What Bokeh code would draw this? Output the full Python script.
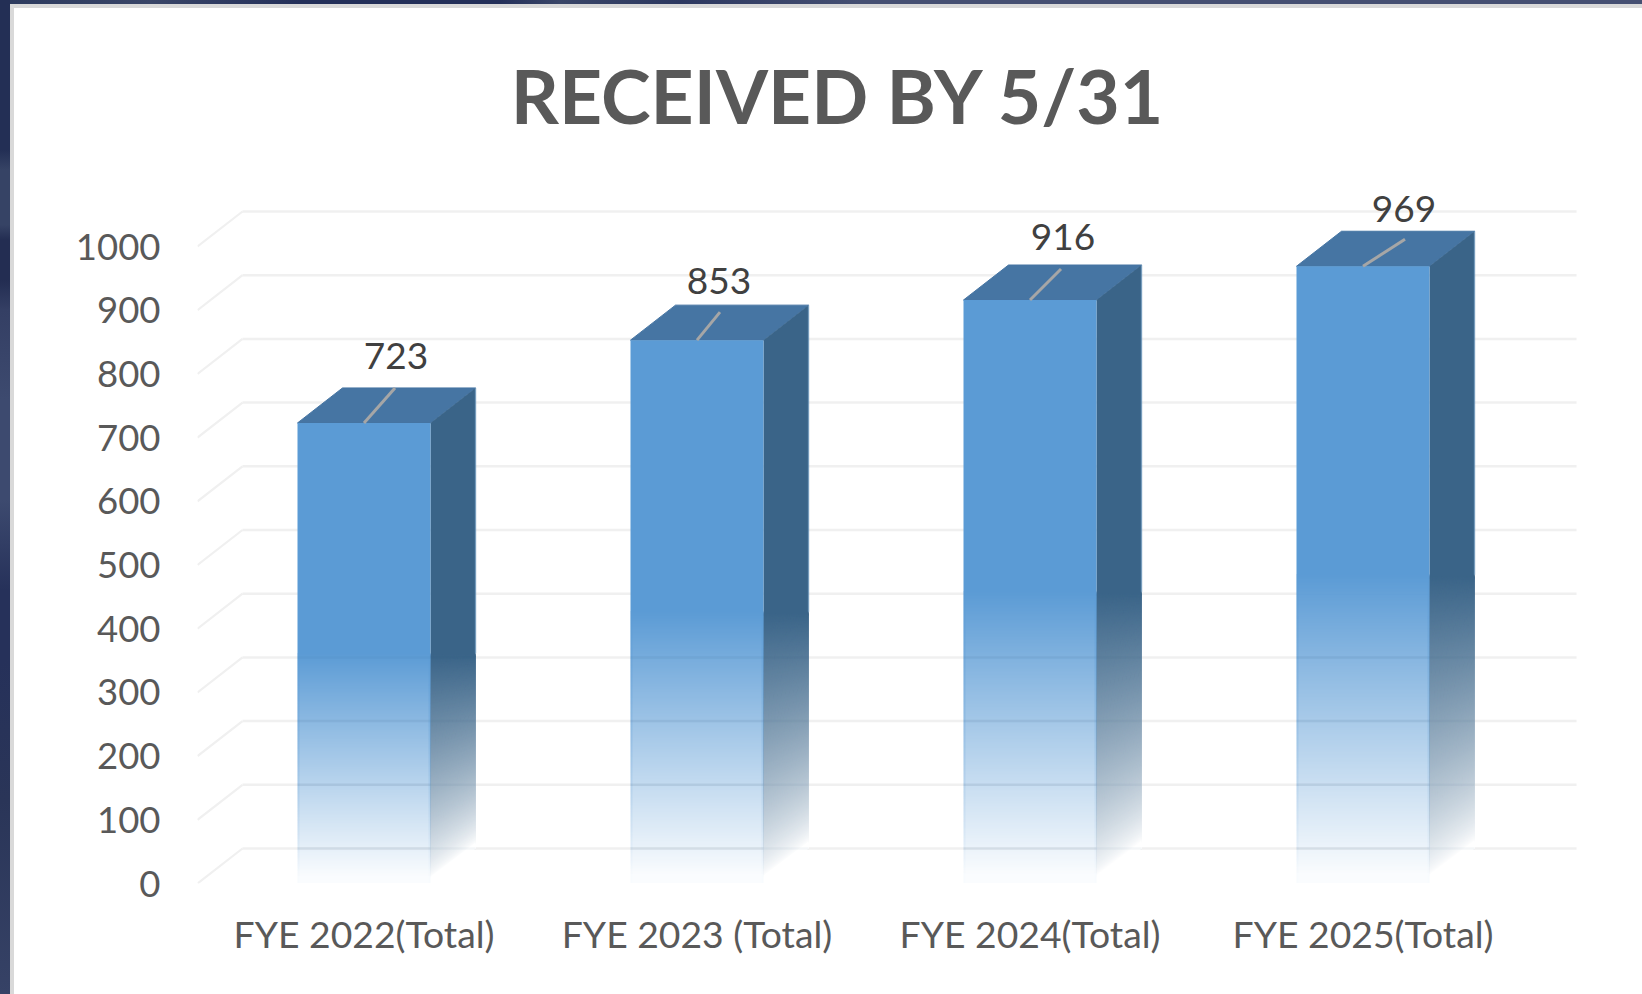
from bokeh.plotting import figure
from bokeh.models import Range1d, FixedTicker, ColumnDataSource, Label
from bokeh.core.properties import value
from bokeh.embed import file_html
from bokeh.resources import INLINE

title_text = "RECEIVED BY 5/31"
categories = ["FYE 2022(Total)", "FYE 2023 (Total)", "FYE 2024(Total)", "FYE 2025(Total)"]
received = [723, 853, 916, 969]
y_ticks = [0, 100, 200, 300, 400, 500, 600, 700, 800, 900, 1000]

# layout, in page pixels
W, H = 1642, 994
FRAME_L, FRAME_T, FRAME_B = 197, 8, 883
PX_X, PX_Y = 333.0, 0.637     # pixels per category / per count
DX, DY = 45 / PX_X, 35 / PX_Y  # depth of the 3D box, in data units
BAR = 133 / PX_X
FONT = value("Lato")
FRONT, TOPC, SIDE = "#5b9bd5", "#4675a3", "#3a6488"

# label and leader-line offsets relative to the front-top centre of the bar (pixels)
label_off = [(32, 67), (22, 59), (33, 63), (41, 57)]
leader_off = [(31, 35), (23, 28), (31, 31), (42, 27)]

# the page behind the chart: dark slide edge, grey panel border, white panel
left_strip = ("linear-gradient(to bottom,#232f55 0px,#232f55 150px,#364365 170px,#364365 225px,#232d52 240px,"
              "#232d52 280px,#343f64 310px,#3d4a6f 400px,#3d4a6f 500px,#26315a 590px,#26315a 660px,"
              "#2a3558 800px,#364266 994px) 0 0/10px 100% no-repeat")
top_strip = ("linear-gradient(to right,#2c3a5e 0px,#3a4668 150px,#24305a 300px,#24305a 500px,#3a4668 560px,"
             "#2c3860 680px,#454f72 860px,#454f72 1642px) 0 0/100% 4px no-repeat")
grey_v = "linear-gradient(#d9d9d9,#d9d9d9) 10px 4px/4px 100% no-repeat"
grey_h = "linear-gradient(#d9d9d9,#d9d9d9) 10px 4px/100% 4px no-repeat"

p = figure(width=W, height=H, output_backend="svg", toolbar_location=None,
           x_range=Range1d(0, (W - FRAME_L) / PX_X),
           y_range=Range1d(0, (FRAME_B - FRAME_T) / PX_Y),
           min_border_left=FRAME_L, min_border_right=0,
           min_border_top=FRAME_T, min_border_bottom=H - FRAME_B,
           background_fill_color="white", border_fill_color=None,
           outline_line_color=None,
           styles={"position": "fixed", "left": "0", "top": "0",
                   "background": ",".join([left_strip, top_strip, grey_v, grey_h, "white"])})
# chart title, inside the tall frame above the plotted values
p.add_layout(Label(x=(838 - FRAME_L) / PX_X, y=(FRAME_B - 94) / PX_Y,
                   text=title_text, text_align="center", text_baseline="alphabetic",
                   text_font="Lato", text_font_size="75px", text_font_style="bold",
                   text_color="#595959"))
p.grid.visible = False

p.xaxis.ticker = FixedTicker(ticks=[i + 0.5 for i in range(len(categories))])
p.xaxis.major_label_overrides = {i + 0.5: c for i, c in enumerate(categories)}
p.yaxis.ticker = FixedTicker(ticks=y_ticks)
for ax, standoff, size in ((p.xaxis, 21, "37.3px"), (p.yaxis, 31, "36.5px")):
    ax.axis_line_color = None
    ax.major_tick_line_color = None
    ax.minor_tick_line_color = None
    ax.major_label_text_font = "Lato"
    ax.major_label_text_font_size = size
    ax.major_label_text_color = "#595959"
    ax.major_label_standoff = standoff

# gridlines: floor-to-wall diagonal and along the wall
x_end = (1576 - FRAME_L) / PX_X
grid_col = "#f0f0f0"
p.segment(x0=[0] * len(y_ticks), y0=y_ticks, x1=[DX] * len(y_ticks), y1=[t + DY for t in y_ticks],
          line_color=grid_col, line_width=2.2)
p.segment(x0=[DX] * len(y_ticks), y0=[t + DY for t in y_ticks], x1=[x_end] * len(y_ticks),
          y1=[t + DY for t in y_ticks], line_color=grid_col, line_width=2.5)


def v_of(py):
    return (FRAME_B - py) / PX_Y


def fade(level, top):
    return max(0.03, min(1.0, (level / top) / 0.5))


def blend(hexc, a):
    rgb = [int(hexc[i:i + 2], 16) for i in (1, 3, 5)]
    return "#%02x%02x%02x" % tuple(round(255 + (c - 255) * a) for c in rgb)


for i, val in enumerate(received):
    x0 = i + 0.5 - BAR / 2
    x1 = i + 0.5 + BAR / 2
    # top face
    p.patch([x0, x1, x1 + DX, x0 + DX], [val, val, val + DY, val + DY], fill_color=TOPC, line_color=TOPC, line_width=1)
    # side face: solid upper part, then overlapping bands whose far edge drops to the floor
    mid = val * 0.5
    step = 4 / PX_Y
    p.patch([x1, x1 + DX, x1 + DX, x1], [val, val + DY, mid - step, mid - step], fill_color=SIDE, line_color=None)
    xs, ys, cols = [], [], []
    py = round(FRAME_B - mid * PX_Y)
    while py < FRAME_B:
        lv = v_of(py)
        f = lv / val
        back = lv + DY * (1 - f / 0.5)
        low = max(lv - step, 0)
        back2 = low + DY * (1 - (low / val) / 0.5)
        xs.append([x1, x1 + DX, x1 + DX, x1])
        ys.append([lv, back, back2, low])
        cols.append(blend(SIDE, (max(0.0, min(1.0, (f - 0.015) / 0.485))) ** 0.75))
        py += 1
    p.patches(xs, ys, fill_color=cols, line_color=None)
    p.line([x1 + DX, x1 + DX], [val + DY, mid], line_color="#5f8db8", line_alpha=0.6, line_width=1.5)
    # front face: solid top half, then 1px bands of fading alpha, aligned to device pixels
    py_mid = round(FRAME_B - mid * PX_Y)
    p.quad(left=x0, right=x1, top=val, bottom=v_of(py_mid - 0.5), fill_color=FRONT, line_color=None)
    tops, bots, alph = [], [], []
    for py in range(py_mid, FRAME_B):
        tops.append(v_of(py - 0.5))
        bots.append(v_of(py + 0.5))
        alph.append(fade(v_of(py), val))
    src = ColumnDataSource(dict(t=tops, b=bots, a=alph))
    p.quad(left=x0, right=x1, top="t", bottom="b", fill_color=FRONT, fill_alpha="a", line_color=None, source=src)
    # soft edges of the front face
    w = 2 / PX_X
    src2 = ColumnDataSource(dict(t=tops, b=bots, a=[min(0.35, x * 0.4) for x in alph]))
    for l in (x0, x1 - w):
        p.quad(left=l, right=l + w, top="t", bottom="b", fill_color=FRONT, fill_alpha="a", line_color=None, source=src2)
    # grid seen through the faded part
    low = [t for t in y_ticks if t < mid and t <= 300]
    p.segment(x0=[x0] * len(low), y0=[t + DY for t in low], x1=[x1 + DX] * len(low), y1=[t + DY for t in low],
              line_color="#1f4e79", line_alpha=0.05, line_width=2.5)
    # leader line and data label
    lx, ly = leader_off[i]
    p.line([i + 0.5, i + 0.5 + lx / PX_X], [val, val + ly / PX_Y], line_color="#a6a6a6", line_width=3)
    tx, ty = label_off[i]
    p.text(x=[i + 0.5 + tx / PX_X], y=[val + ty / PX_Y], text=[str(val)], text_font=FONT,
           text_font_size="37px", text_color="#404040", text_align="center", text_baseline="alphabetic")

open("out.html", "w").write(file_html(p, INLINE))
